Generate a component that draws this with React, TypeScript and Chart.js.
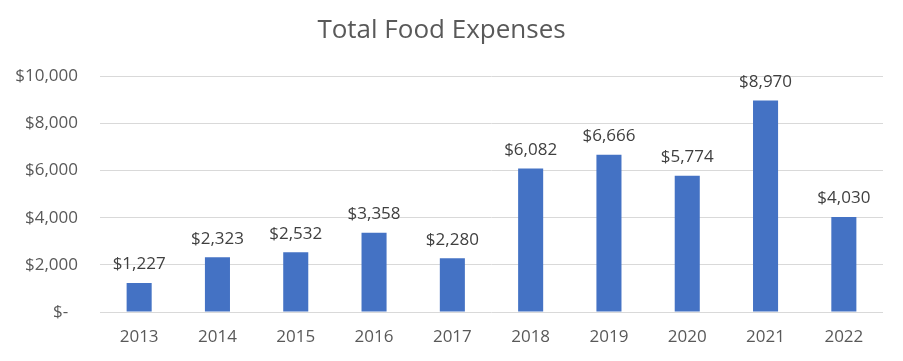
import React, { useEffect, useRef } from "react";
import { Chart, registerables } from "chart.js";

Chart.register(...registerables);

const years = ["2013", "2014", "2015", "2016", "2017", "2018", "2019", "2020", "2021", "2022"];
const expenses = [1227, 2323, 2532, 3358, 2280, 6082, 6666, 5774, 8970, 4030];
const yTicks = [0, 2000, 4000, 6000, 8000, 10000];
const chartTitle = "Total Food Expenses";

const FONT = "'Open Sans', 'Liberation Sans', sans-serif";

const money = (v: number) => (v === 0 ? "$-\u2007" : "$" + v.toLocaleString("en-US"));

const labelPlugin = {
  id: "barLabels",
  afterDatasetsDraw(chart: any) {
    const ctx = chart.ctx;
    const meta = chart.getDatasetMeta(0);
    ctx.save();
    ctx.font = `17px ${FONT}`;
    ctx.fillStyle = "#404040";
    ctx.textAlign = "center";
    ctx.textBaseline = "bottom";
    meta.data.forEach((bar: any, i: number) => {
      ctx.fillText(money(expenses[i]), bar.x, bar.y - 10);
    });
    ctx.restore();
  },
};

export default function App() {
  const ref = useRef<HTMLCanvasElement>(null);
  useEffect(() => {
    document.body.style.margin = "0";
    const chart = new Chart(ref.current!, {
      type: "bar",
      data: {
        labels: years,
        datasets: [
          {
            data: expenses,
            backgroundColor: "#4472C4",
            borderWidth: 0,
            categoryPercentage: 1,
            barPercentage: 0.32,
          },
        ],
      },
      options: {
        animation: false,
        responsive: false,
        maintainAspectRatio: false,
        layout: { padding: { left: 0, right: 20, top: 0, bottom: 0 } },
        plugins: {
          legend: { display: false },
          tooltip: { enabled: false },
          title: {
            display: true,
            text: chartTitle,
            color: "#595959",
            font: { family: FONT, size: 26, weight: "normal" },
            padding: { top: 15, bottom: 30 },
          },
        },
        scales: {
          x: {
            grid: { display: false, drawTicks: false },
            border: { display: false },
            ticks: { color: "#595959", font: { family: FONT, size: 17 }, padding: 15 },
            afterFit: (s: any) => {
              s.height = 49;
            },
          },
          y: {
            min: 0,
            max: 10000,
            afterBuildTicks: (s: any) => {
              s.ticks = yTicks.map((v) => ({ value: v }));
            },
            grid: { color: "#d9d9d9", lineWidth: 1, drawTicks: false },
            border: { display: false },
            ticks: {
              color: "#595959",
              font: { family: FONT, size: 17 },
              padding: 22,
              callback: (v: any) => money(Number(v)),
            },
            afterFit: (s: any) => {
              s.width = 100;
            },
          },
        },
      },
      plugins: [labelPlugin],
    });
    return () => chart.destroy();
  }, []);
  return (
    <div style={{ position: "fixed", left: 0, top: 0, width: 903, height: 361, background: "#fff" }}>
      <canvas ref={ref} width={903} height={361} style={{ width: 903, height: 361 }} />
    </div>
  );
}
